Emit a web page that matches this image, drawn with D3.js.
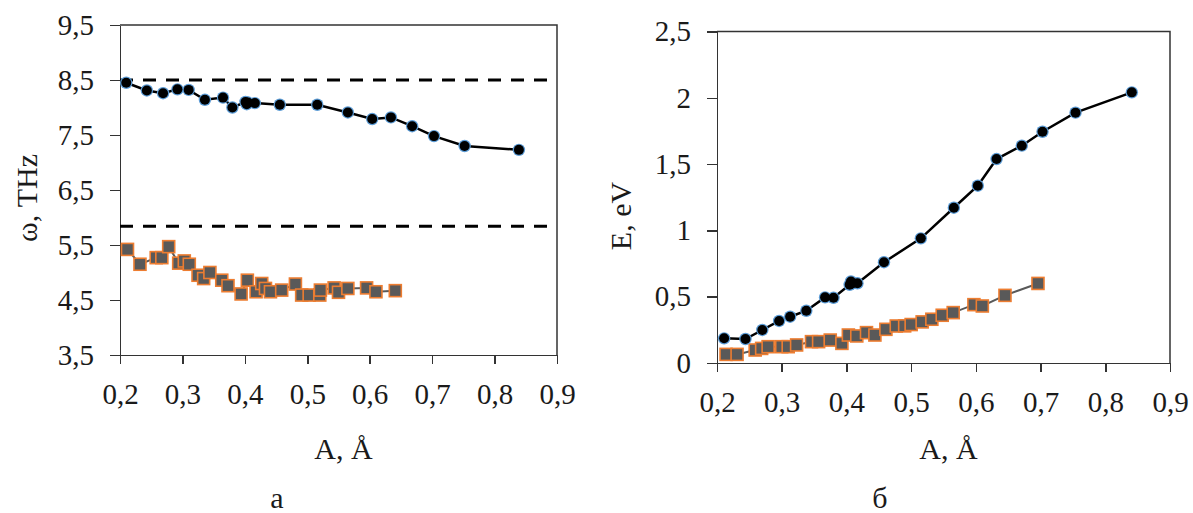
<!DOCTYPE html>
<meta charset="utf-8">
<style>
  body { margin: 0; background: #fff; }
  text { font-family: "Liberation Serif", "Times New Roman", serif; fill: #1a1a1a; }
  .axis path, .axis line { stroke: #333; stroke-width: 1.5px; shape-rendering: crispEdges; }
</style>
<body>
<script src="https://cdn.jsdelivr.net/npm/d3@7"></script>
<script>
// amplitude ticks shared by both panels
var aTicks = [0.2, 0.3, 0.4, 0.5, 0.6, 0.7, 0.8, 0.9];

// panel a: frequency
var wTicks = [3.5, 4.5, 5.5, 6.5, 7.5, 8.5, 9.5];
var wDashed = [8.5, 5.84];
var wHighA = [0.21, 0.243, 0.269, 0.292, 0.31, 0.336, 0.365, 0.38, 0.401, 0.403, 0.405, 0.416, 0.456, 0.516, 0.565, 0.604, 0.634, 0.668, 0.703, 0.752, 0.839];
var wHighW = [8.45, 8.31, 8.26, 8.33, 8.32, 8.14, 8.18, 8.0, 8.1, 8.06, 8.09, 8.08, 8.05, 8.05, 7.91, 7.79, 7.82, 7.66, 7.48, 7.3, 7.23];
var wLowA = [0.212, 0.232, 0.258, 0.267, 0.278, 0.294, 0.303, 0.311, 0.325, 0.334, 0.344, 0.363, 0.373, 0.394, 0.404, 0.418, 0.427, 0.433, 0.441, 0.459, 0.481, 0.491, 0.503, 0.52, 0.521, 0.543, 0.55, 0.565, 0.595, 0.61, 0.641];
var wLowW = [5.42, 5.15, 5.27, 5.27, 5.47, 5.17, 5.21, 5.15, 4.95, 4.89, 5.0, 4.86, 4.76, 4.61, 4.86, 4.65, 4.8, 4.71, 4.65, 4.68, 4.79, 4.59, 4.59, 4.59, 4.68, 4.72, 4.64, 4.71, 4.72, 4.65, 4.67];

// panel б: energy
var eTicks = [0, 0.5, 1, 1.5, 2, 2.5];
var eHighA = [0.211, 0.244, 0.27, 0.296, 0.313, 0.338, 0.367, 0.38, 0.405, 0.407, 0.409, 0.417, 0.458, 0.515, 0.566, 0.603, 0.632, 0.671, 0.703, 0.754, 0.841];
var eHighE = [0.186, 0.181, 0.249, 0.317, 0.349, 0.394, 0.495, 0.492, 0.59, 0.615, 0.6, 0.601, 0.76, 0.94, 1.171, 1.337, 1.538, 1.639, 1.744, 1.888, 2.041];
var eLowA = [0.214, 0.231, 0.259, 0.269, 0.279, 0.3, 0.31, 0.323, 0.346, 0.357, 0.375, 0.393, 0.403, 0.416, 0.431, 0.444, 0.461, 0.477, 0.49, 0.5, 0.517, 0.532, 0.548, 0.565, 0.597, 0.61, 0.645, 0.696];
var eLowE = [0.065, 0.065, 0.098, 0.11, 0.123, 0.123, 0.123, 0.136, 0.161, 0.161, 0.173, 0.148, 0.211, 0.204, 0.229, 0.211, 0.254, 0.279, 0.28, 0.29, 0.31, 0.33, 0.36, 0.38, 0.44, 0.43, 0.51, 0.6];

var svg = d3.select("body").append("svg")
  .attr("width", 1193)
  .attr("height", 513);

var comma = function(d) { return String(d).replace(".", ","); };

function panel(o) {
  var x = d3.scaleLinear().domain([0.2, 0.9]).range([o.left, o.right]);
  var y = d3.scaleLinear().domain(o.yDomain).range([o.bottom, o.top]);
  var g = svg.append("g");

  // frame
  g.append("path")
    .attr("d", "M" + o.left + "," + o.top + "H" + o.right + "V" + o.bottom)
    .style("fill", "none").style("stroke", "#333").style("stroke-width", "1.5px");

  var xa = g.append("g").attr("class", "axis")
    .attr("transform", "translate(0," + o.bottom + ")")
    .call(d3.axisBottom(x).tickValues(aTicks).tickFormat(comma).tickSizeInner(9).tickSizeOuter(0).tickPadding(19));
  xa.selectAll("text").style("font-size", "29px").attr("fill", "#1a1a1a")
    .style("font-family", "Liberation Serif");

  var ya = g.append("g").attr("class", "axis")
    .attr("transform", "translate(" + o.left + ",0)")
    .call(d3.axisLeft(y).tickValues(o.yTicks).tickFormat(comma).tickSizeInner(10).tickSizeOuter(0).tickPadding(16));
  ya.selectAll("text").style("font-size", "29px").attr("fill", "#1a1a1a")
    .style("font-family", "Liberation Serif");

  (o.dashed || []).forEach(function(v) {
    g.append("line")
      .attr("x1", o.left).attr("x2", o.right)
      .attr("y1", y(v)).attr("y2", y(v))
      .style("stroke", "#000").style("stroke-width", "3px")
      .style("stroke-dasharray", "13,10");
  });

  var line = d3.line().x(function(d) { return x(d[0]); }).y(function(d) { return y(d[1]); });
  var low = d3.zip(o.lowA, o.lowV);
  var high = d3.zip(o.highA, o.highV);

  g.append("path").datum(low).attr("d", line)
    .style("fill", "none").style("stroke", "#595959").style("stroke-width", "2px");
  g.selectAll(".sq").data(low).enter().append("rect")
    .attr("x", function(d) { return x(d[0]) - 6; })
    .attr("y", function(d) { return y(d[1]) - 6; })
    .attr("width", 12).attr("height", 12)
    .style("fill", "#595959").style("stroke", "#ed7d31").style("stroke-width", "1.6px");

  g.append("path").datum(high).attr("d", line)
    .style("fill", "none").style("stroke", "#000").style("stroke-width", "2.5px");
  // blue halo first, black cores on top, so clustered points merge into one blob
  g.selectAll(".halo").data(high).enter().append("circle")
    .attr("cx", function(d) { return x(d[0]); })
    .attr("cy", function(d) { return y(d[1]); })
    .attr("r", 6.2)
    .style("fill", "#5b9bd5");
  g.selectAll(".dot").data(high).enter().append("circle")
    .attr("cx", function(d) { return x(d[0]); })
    .attr("cy", function(d) { return y(d[1]); })
    .attr("r", 5)
    .style("fill", "#000");

  g.append("text")
    .attr("x", (o.left + o.right) / 2 + 5).attr("y", 459)
    .attr("text-anchor", "middle").style("font-size", "30px")
    .text("A, Å");

  g.append("text")
    .attr("x", o.letterX).attr("y", 508)
    .attr("text-anchor", "middle").style("font-size", "30px")
    .text(o.letter);

  g.append("text")
    .attr("transform", "translate(" + o.titleX + "," + o.titleY + ") rotate(-90)")
    .attr("text-anchor", "middle").style("font-size", "30px")
    .text(o.title);
}

panel({
  left: 120, right: 557, top: 25, bottom: 355,
  yDomain: [3.5, 9.5], yTicks: wTicks, dashed: wDashed,
  highA: wHighA, highV: wHighW, lowA: wLowA, lowV: wLowW,
  title: "ω, THz", titleX: 37, titleY: 198,
  letter: "а", letterX: 277
});

panel({
  left: 717, right: 1170, top: 31.5, bottom: 363,
  yDomain: [0, 2.5], yTicks: eTicks,
  highA: eHighA, highV: eHighE, lowA: eLowA, lowV: eLowE,
  title: "E, eV", titleX: 631, titleY: 216,
  letter: "б", letterX: 880
});
</script>
</body>
